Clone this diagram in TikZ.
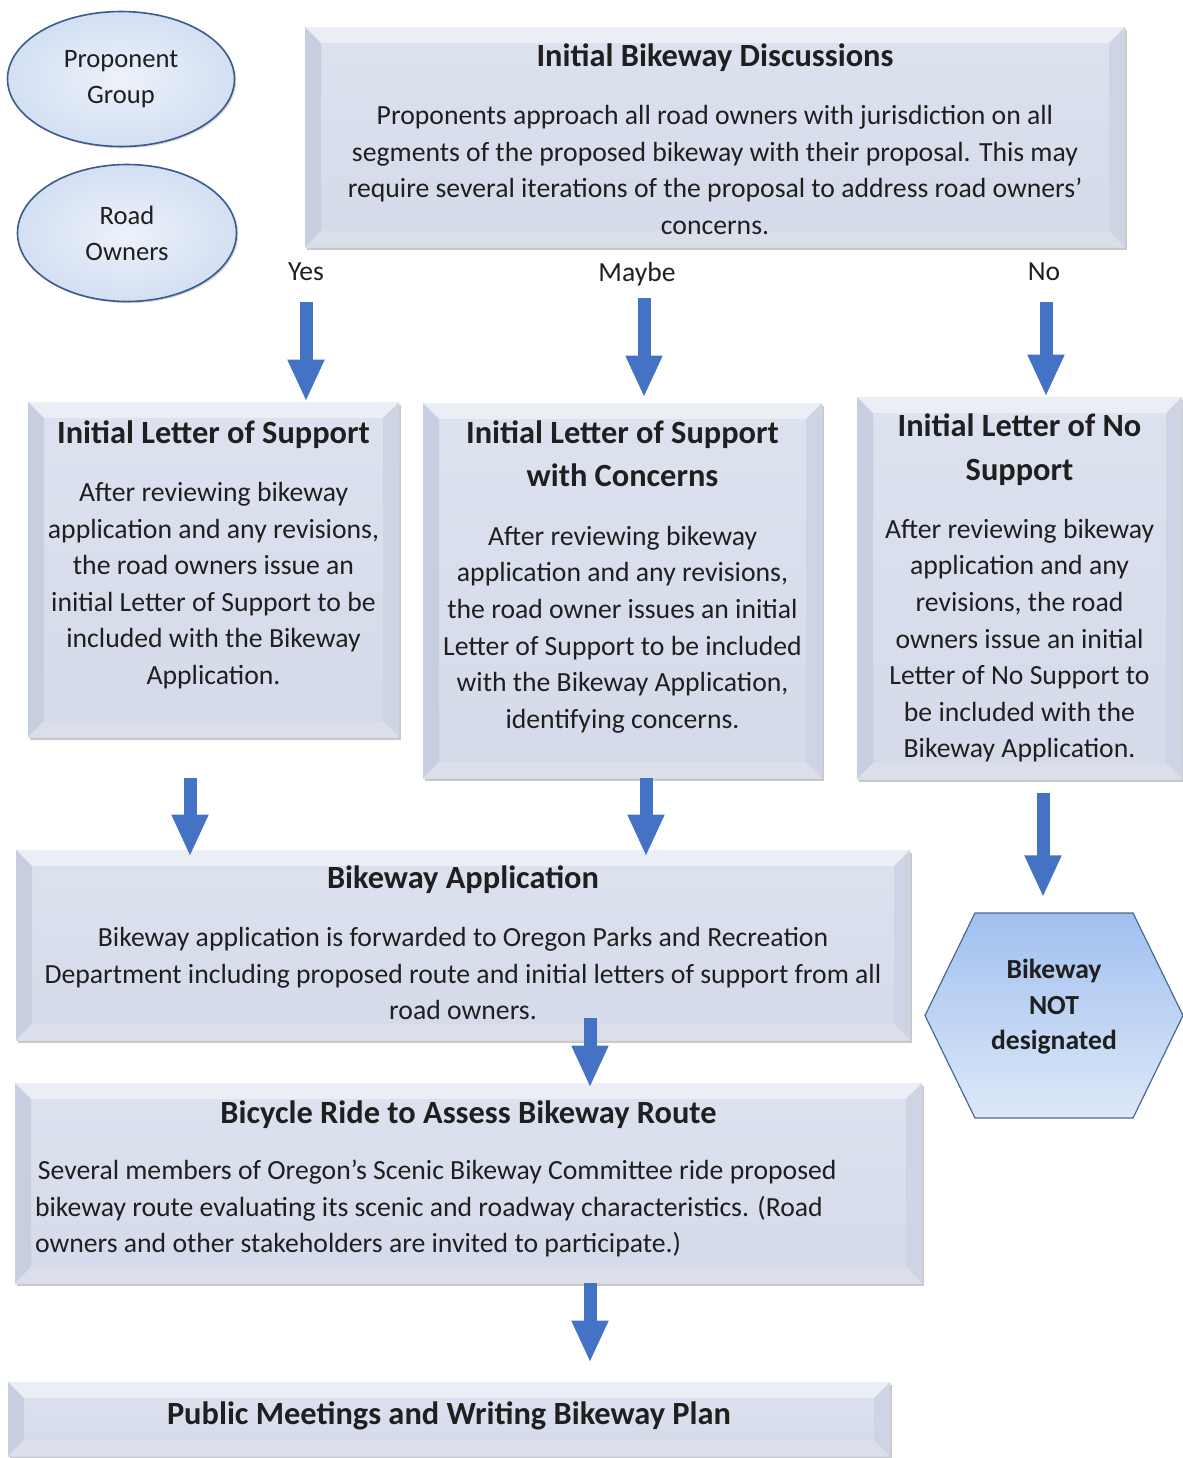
\documentclass[tikz,border=0pt]{standalone}
\usepackage{fontspec}
\setmainfont{Carlito}
\usetikzlibrary{positioning,shapes.geometric,shapes.symbols,shadows,arrows.meta}
\definecolor{inkgray}{HTML}{1F1F1F}
\definecolor{boxlight}{HTML}{DCE2EE}
\definecolor{boxface}{HTML}{D4DAE9}
\definecolor{beveltop}{HTML}{EBEEF5}
\definecolor{bevelleft}{HTML}{C7CEDF}
\definecolor{bevelright}{HTML}{CED4E3}
\definecolor{bevelbottom}{HTML}{DADFEA}
\definecolor{ovalline}{HTML}{3B5A8F}
\definecolor{ovalfill}{HTML}{D3DFF3}
\definecolor{hexline}{HTML}{4A6A96}
\definecolor{hextop}{HTML}{A0C0F0}
\definecolor{hexbottom}{HTML}{DDE8F8}
\definecolor{arrowblue}{HTML}{4472C4}
\newcommand{\bevelw}{8pt}
\newcommand{\boxtitle}{\fontsize{16.2}{18.3}\selectfont\bfseries}
\tikzset{
	bevelbox/.style={rectangle, inner sep=0pt, top color=boxlight, bottom color=boxface,
		drop shadow={shadow xshift=1pt, shadow yshift=-1.3pt, opacity=.3, fill=black!70},
		path picture={
			\coordinate (bnw) at (path picture bounding box.north west);
			\coordinate (bne) at (path picture bounding box.north east);
			\coordinate (bsw) at (path picture bounding box.south west);
			\coordinate (bse) at (path picture bounding box.south east);
			\fill[beveltop] (bnw) -- (bne) -- ([shift={(-\bevelw,-\bevelw)}]bne) -- ([shift={(\bevelw,-\bevelw)}]bnw) -- cycle;
			\fill[bevelleft] (bnw) -- ([shift={(\bevelw,-\bevelw)}]bnw) -- ([shift={(\bevelw,\bevelw)}]bsw) -- (bsw) -- cycle;
			\fill[bevelright] (bne) -- ([shift={(-\bevelw,-\bevelw)}]bne) -- ([shift={(-\bevelw,\bevelw)}]bse) -- (bse) -- cycle;
			\fill[bevelbottom] (bsw) -- ([shift={(\bevelw,\bevelw)}]bsw) -- ([shift={(-\bevelw,\bevelw)}]bse) -- (bse) -- cycle;
		}},
	boxtext/.style={inner sep=0pt, align=center, text=inkgray, font=\fontsize{13.85}{18.3}\selectfont},
	ovalnode/.style={ellipse, draw=ovalline, line width=0.8pt, inner color=white!60!ovalfill, outer color=ovalfill,
		drop shadow={shadow xshift=0.8pt, shadow yshift=-0.8pt, opacity=.25, fill=black!70},
		align=center, inner sep=0pt, text=inkgray, font=\fontsize{13.3}{18}\selectfont},
	hexnode/.style={signal, signal from=nowhere, signal to=east and west, signal pointer angle=128,
		minimum width=129pt, minimum height=102.5pt, draw=hexline, line width=0.6pt,
		top color=hextop, bottom color=hexbottom, inner sep=0pt, align=center, text=inkgray,
		font=\bfseries\fontsize{13.8}{17.75}\selectfont, text depth=11pt},
	branchlabel/.style={inner sep=0pt, text=inkgray, font=\fontsize{13.8}{15}\selectfont},
	bigarrow/.style={draw=arrowblue, line width=6.5pt, -{Triangle[width=17pt,length=21pt]}}
}
\begin{document}
\begin{tikzpicture}[x=0.5pt, y=-0.5pt]
		\useasboundingbox (0,0) rectangle (1183,1458);
		\node[ovalnode, minimum width=113.5pt, minimum height=67.5pt] (proponent) at (121,79) {Proponent\\Group};
		\node[ovalnode, minimum width=109.5pt, minimum height=68.5pt] (owners) at (127,233) {Road\\Owners};
		\node[bevelbox, minimum width=410pt, minimum height=110pt] (disc) at (715,137) {};
		\node[bevelbox, minimum width=185.5pt, minimum height=167.5pt] (l1) at (213.5,569.5) {};
		\node[bevelbox, minimum width=199.5pt, minimum height=187.5pt] (l2) at (622.5,590.5) {};
		\node[bevelbox, minimum width=162.5pt, minimum height=191pt] (l3) at (1019.5,588) {};
		\node[bevelbox, minimum width=447pt, minimum height=95pt] (app) at (463,945) {};
		\node[hexnode] (notdes) at (1054,1015.5) {Bikeway\\NOT\\designated};
		\node[bevelbox, minimum width=453.5pt, minimum height=100pt] (bike) at (468.5,1183) {};
		\node[bevelbox, minimum width=441pt, minimum height=37pt] (pub) at (449,1419) {};
		\node[boxtext, below=8.5pt of disc.north] (disctext) {{\boxtitle Initial Bikeway Discussions}\\[10.6pt]Proponents approach all road owners with jurisdiction on all\\segments of the proposed bikeway with their proposal. This may\\require several iterations of the proposal to address road owners’\\concerns.};
		\node[boxtext, below=9.5pt of l1.north] (l1text) {{\boxtitle Initial Letter of Support}\\[10.6pt]After reviewing bikeway\\application and any revisions,\\the road owners issue an\\initial Letter of Support to be\\included with the Bikeway\\Application.};
		\node[boxtext, below=9pt of l2.north] (l2text) {{\boxtitle Initial Letter of Support}\\[3.1pt]{\boxtitle with Concerns}\\[11.1pt]After reviewing bikeway\\application and any revisions,\\the road owner issues an initial\\Letter of Support to be included\\with the Bikeway Application,\\identifying concerns.};
		\node[boxtext, below=8.5pt of l3.north] (l3text) {{\boxtitle Initial Letter of No}\\[3.6pt]{\boxtitle Support}\\[10.6pt]After reviewing bikeway\\application and any\\revisions, the road\\owners issue an initial\\Letter of No Support to\\be included with the\\Bikeway Application.};
		\node[boxtext, below=8pt of app.north] (apptext) {{\boxtitle Bikeway Application}\\[10.6pt]Bikeway application is forwarded to Oregon Parks and Recreation\\Department including proposed route and initial letters of support from all\\road owners.};
		\node[boxtext, below=9pt of bike.north] (biketitle) {\boxtitle Bicycle Ride to Assess Bikeway Route};
		\node[boxtext, align=left, anchor=north west] (biketext) at ([xshift=10pt,yshift=-38.5pt]bike.north west) {\hspace{1.5pt}Several members of Oregon’s Scenic Bikeway Committee ride proposed\\bikeway route evaluating its scenic and roadway characteristics. (Road\\owners and other stakeholders are invited to participate.)};
		\node[boxtext, below=10pt of pub.north] (pubtext) {\boxtitle Public Meetings and Writing Bikeway Plan};
		\node[branchlabel] (yes) at (306,272) {Yes};
		\node[branchlabel] (maybe) at (637,274) {Maybe};
		\node[branchlabel] (no) at (1044,272) {No};
		\coordinate (yestop) at ([yshift=-15pt]yes.center);
		\coordinate (maybetop) at ([xshift=3.5pt,yshift=-12pt]maybe.center);
		\coordinate (notop) at ([xshift=1pt,yshift=-15pt]no.center);
		\coordinate (l1foot) at ([xshift=-11.75pt,yshift=-20.5pt]l1.south);
		\coordinate (l2foot) at ([xshift=11.75pt]l2.south);
		\coordinate (l3foot) at ([xshift=11.75pt,yshift=-7pt]l3.south);
		\coordinate (appfoot) at ([xshift=63.5pt,yshift=11pt]app.south);
		\coordinate (bikefoot) at ([xshift=60.75pt]bike.south);
		\draw[bigarrow] (yestop) -- (yestop |- l1.north);
		\draw[bigarrow, shorten >=2.5pt] (maybetop) -- (maybetop |- l2.north);
		\draw[bigarrow] (notop) -- (notop |- l3.north);
		\draw[bigarrow, shorten >=-3.5pt] (l1foot) -- (l1foot |- app.north);
		\draw[bigarrow, shorten >=-3.5pt] (l2foot) -- (l2foot |- app.north);
		\draw[bigarrow, shorten >=7.5pt] (l3foot) -- (l3foot |- notdes.north);
		\draw[bigarrow, shorten >=-2.5pt] (appfoot) -- (appfoot |- bike.north);
		\draw[bigarrow, shorten >=9.5pt] (bikefoot) -- (bikefoot |- pub.north);
	\end{tikzpicture}
\end{document}
